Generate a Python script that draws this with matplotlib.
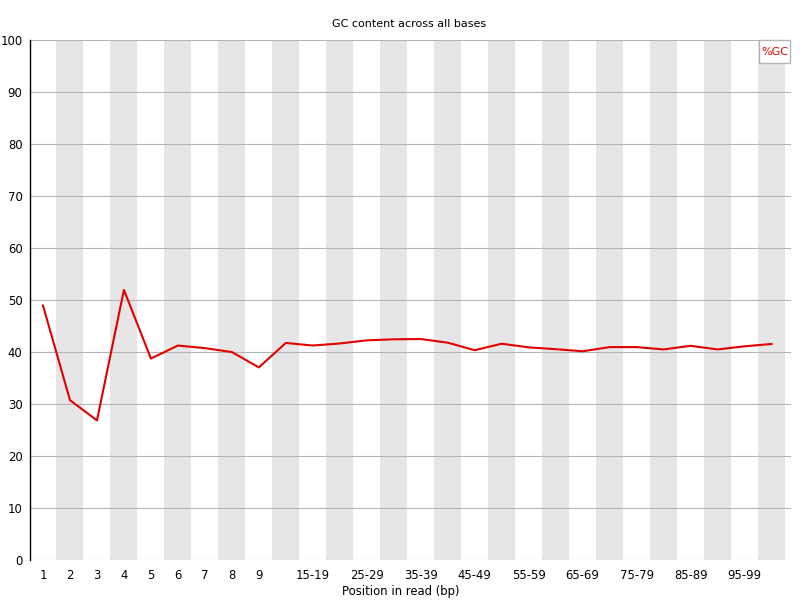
"""Per-base GC content, FastQC style."""
import numpy as np
import matplotlib
matplotlib.use("Agg")
import matplotlib.pyplot as plt
from matplotlib.patches import Rectangle

positions = ["1", "2", "3", "4", "5", "6", "7", "8", "9",
             "10-14", "15-19", "20-24", "25-29", "30-34", "35-39", "40-44",
             "45-49", "50-54", "55-59", "60-64", "65-69", "70-74", "75-79",
             "80-84", "85-89", "90-94", "95-99", "100-101"]
gc_pct = [49.0, 30.8, 26.9, 52.0, 38.8, 41.3, 40.8, 40.05, 37.1,
          41.8, 41.3, 41.7, 42.3, 42.5, 42.55, 41.85, 40.4, 41.65,
          40.95, 40.6, 40.2, 41.0, 41.0, 40.55, 41.25, 40.55, 41.15, 41.6]
y_ticks = list(range(0, 101, 10))

W, H = 800, 600
FS = 8.4
fig = plt.figure(figsize=(W / 100, H / 100), dpi=100)
left, right, top, bottom = 29.5, 790.5, 40.3, 560.3
ax = fig.add_axes([left / W, 1 - bottom / H, (right - left) / W, (bottom - top) / H])

n = len(positions)
x = np.arange(n)
cell = (785 - left) / n                       # stripes stop a little short of the grid
ax.set_xlim(-0.5, -0.5 + (right - left) / cell)
ax.set_ylim(0, 100)

for i in range(1, n, 2):
    ax.axvspan(i - 0.5, i + 0.5, color="#e6e6e6", lw=0, zorder=0)
for v in y_ticks:
    ax.axhline(v, color="#b4b4b4", lw=0.8, zorder=1)

ax.plot(x, gc_pct, color="#e00000", lw=1.5, zorder=3)

for s in ("top", "right", "bottom"):
    ax.spines[s].set_visible(False)
ax.spines["left"].set_color("black")
ax.spines["left"].set_linewidth(1.0)

show = [p if (i < 9 or (i >= 10 and i % 2 == 0 and i < 27)) else "" for i, p in enumerate(positions)]
ax.set_xticks(x)
ax.set_xticklabels(show)
ax.set_yticks(y_ticks)
ax.tick_params(axis="both", length=0, labelsize=FS, pad=6)
ax.tick_params(axis="y", pad=5)

fig.text(400.5 / W, 1 - 591.5 / H, "Position in read (bp)", ha="center", va="center",
         fontsize=FS)
fig.text(409 / W, 1 - 24 / H, "GC content across all bases", ha="center", va="center",
         fontsize=8)

# legend box, pinned to the top-right corner of the grid
bx0, bx1, by0, by1 = 759.3, 790.3, 40.3, 63.0
fig.add_artist(Rectangle((bx0 / W, 1 - by1 / H), (bx1 - bx0) / W, (by1 - by0) / H,
                         transform=fig.transFigure, fc="white", ec="#b4b4b4", lw=1,
                         zorder=5))
fig.text((bx0 + bx1) / 2 / W, 1 - (by0 + by1) / 2 / H, "%GC", ha="center", va="center",
         color="#e00000", fontsize=8, zorder=6)

fig.savefig("out.png", dpi=100)
